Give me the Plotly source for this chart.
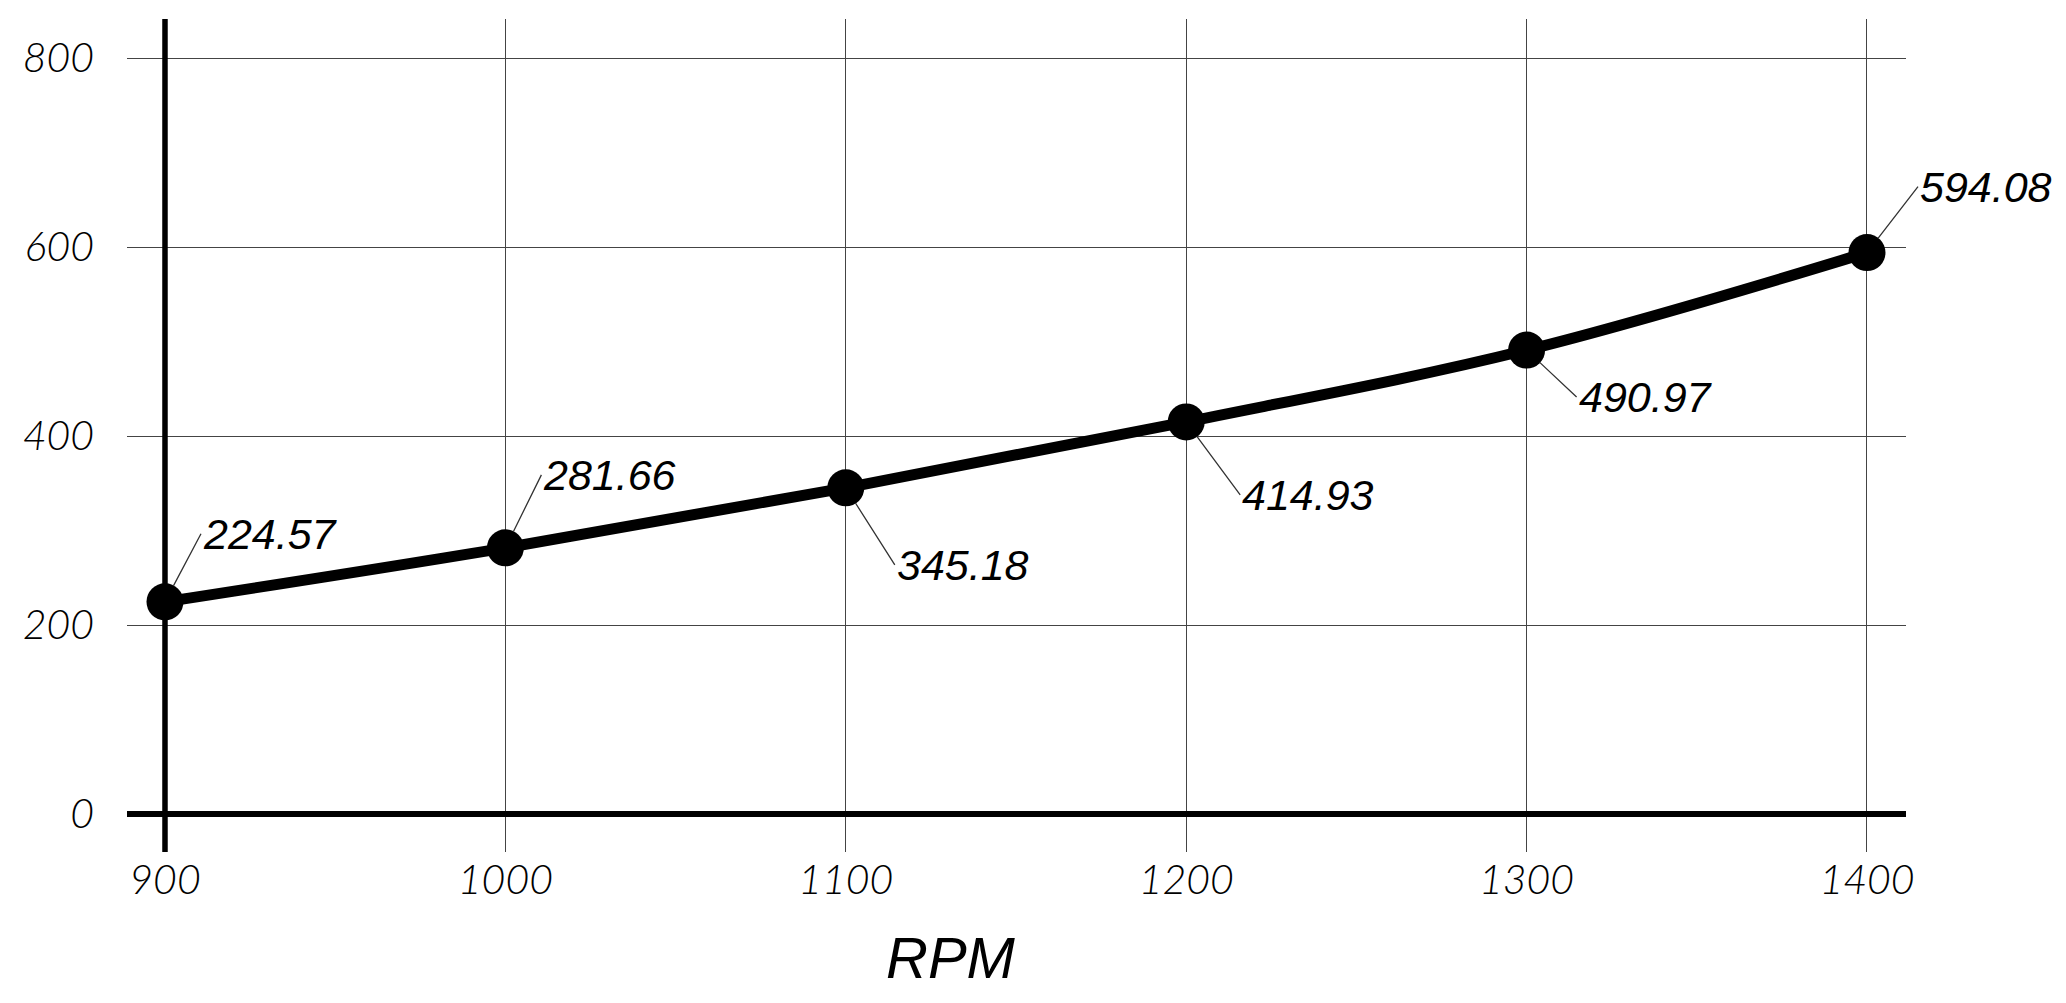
import plotly.graph_objects as go

rpm = [900, 1000, 1100, 1200, 1300, 1400]
values = [224.57, 281.66, 345.18, 414.93, 490.97, 594.08]
labels = ["224.57", "281.66", "345.18", "414.93", "490.97", "594.08"]
x_ticks = [900, 1000, 1100, 1200, 1300, 1400]
y_ticks = [0, 200, 400, 600, 800]
# label leader offsets in pixels (dx, dy)
label_dx = [36, 36, 49, 54, 50, 51]
label_dy = [-68, -73, 77, 73, 47, -66]

# page body has an 8px margin
W, H = 2058, 995
fig = go.Figure()

fig.add_trace(go.Scatter(
    x=rpm, y=values, mode="lines+markers",
    line=dict(color="black", width=11, shape="spline", smoothing=1),
    marker=dict(color="black", size=37),
    showlegend=False, hoverinfo="skip",
))

label_font = dict(family="Liberation Sans, Arial", size=43,
                  color="black", style="italic")
for xv, yv, t, dx, dy in zip(rpm, values, labels, label_dx, label_dy):
    fig.add_annotation(
        x=xv, y=yv, xref="x", yref="y", text=t,
        showarrow=True, arrowhead=0, arrowwidth=1.3, arrowcolor="#333",
        ax=dx, ay=dy, axref="pixel", ayref="pixel",
        xanchor="left", yanchor="middle", standoff=18,
        font=label_font,
    )

# thick vertical axis at first RPM
fig.add_shape(type="line", xref="x", yref="paper", x0=rpm[0], x1=rpm[0], y0=0, y1=1,
              line=dict(color="black", width=5.5), layer="above")

fig.add_annotation(
    text="RPM", xref="paper", yref="paper", x=0.463, y=-0.127,
    showarrow=False, xanchor="center", yanchor="middle",
    font=dict(family="Liberation Sans, Arial", size=58,
              color="black", style="italic"),
)

tick_font = dict(family="Lato", size=41, color="black", style="italic", weight=300)
fig.update_layout(
    width=W, height=H,
    margin=dict(l=119, r=160, t=11, b=151),
    paper_bgcolor="white", plot_bgcolor="white",
    xaxis=dict(range=[888.84, 1411.46], tickvals=x_ticks, ticktext=[str(v) for v in x_ticks],
               showgrid=True, gridcolor="#444", gridwidth=1.4, zeroline=False,
               showline=False, ticks="", tickfont=tick_font),
    yaxis=dict(range=[-40.2, 841.3], tickvals=y_ticks, ticktext=[str(v) for v in y_ticks],
               showgrid=True, gridcolor="#444", gridwidth=1.4,
               zeroline=True, zerolinecolor="black", zerolinewidth=6,
               showline=False, ticks="", tickfont=tick_font, ticklabelstandoff=32),
)

fig.write_html("out.html")
